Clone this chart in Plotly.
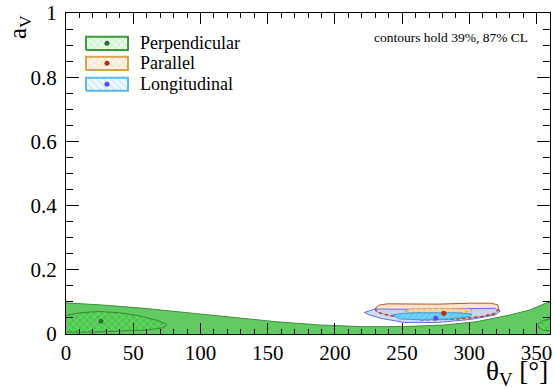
import plotly.graph_objects as go

# ---------------- data ----------------
# Perpendicular, 87% CL band: upper edge vs theta (band reaches down to a=0)
perp87_theta = [0, 5, 28, 58, 95, 127, 157, 189, 219, 251, 281, 305, 330, 345, 353, 358, 360]
perp87_a = [0.097, 0.096, 0.090, 0.080, 0.064, 0.052, 0.038, 0.028, 0.023, 0.023, 0.028, 0.038, 0.059, 0.075, 0.090, 0.098, 0.098]
# Perpendicular, 39% CL region (and its wrap-around part near 360)
perp39_theta = [0, 10, 25, 40, 55, 68, 75, 73, 60, 40, 20, 0]
perp39_a = [0.058, 0.066, 0.070, 0.066, 0.056, 0.042, 0.030, 0.020, 0.012, 0.008, 0.006, 0.006]
perp39w_theta = [360, 355, 351, 352, 355, 360]
perp39w_a = [0.047, 0.042, 0.030, 0.018, 0.012, 0.010]
perp_best = (26, 0.040)

# Parallel
par87_theta = [230, 233, 239, 260, 276, 301, 316, 321, 322, 319, 309, 289, 265, 245, 236, 231, 230]
par87_a = [0.080, 0.090, 0.094, 0.094, 0.093, 0.096, 0.096, 0.091, 0.078, 0.064, 0.054, 0.046, 0.044, 0.054, 0.062, 0.069, 0.080]
par39_theta = [252, 256, 280, 300, 302, 295, 270, 255, 252]
par39_a = [0.072, 0.078, 0.080, 0.078, 0.072, 0.067, 0.066, 0.067, 0.072]
par_best = (281, 0.065)

# Longitudinal
lon87_theta = [222, 226, 230, 252, 289, 319, 323, 319, 302, 277, 252, 235, 226, 222]
lon87_a = [0.067, 0.073, 0.078, 0.077, 0.078, 0.080, 0.072, 0.059, 0.046, 0.036, 0.036, 0.048, 0.059, 0.067]
lon39_theta = [243, 250, 260, 290, 302, 300, 285, 265, 248, 243]
lon39_a = [0.060, 0.064, 0.066, 0.066, 0.062, 0.054, 0.047, 0.044, 0.047, 0.060]
lon_best = (275, 0.049)

legend_labels = ["Perpendicular", "Parallel", "Longitudinal"]
x_ticks = [0, 50, 100, 150, 200, 250, 300, 350]
y_ticks = [0, 0.2, 0.4, 0.6, 0.8, 1]
y_tick_text = ["0", "0.2", "0.4", "0.6", "0.8", "1"]

SERIF = "Liberation Serif"

fig = go.Figure()

# Perpendicular
fig.add_trace(go.Scatter(x=perp87_theta, y=perp87_a, mode="lines", fill="tozeroy",
                         line=dict(color="#3f8f3f", width=1), fillcolor="#63c963",
                         showlegend=False, hoverinfo="skip"))
for tx, ty in [(perp39_theta, perp39_a), (perp39w_theta, perp39w_a)]:
    fig.add_trace(go.Scatter(x=tx, y=ty, mode="lines", fill="toself",
                             line=dict(color="#2e8b2e", width=1),
                             fillpattern=dict(shape="x", bgcolor="#4cc84c", fgcolor="#a8f2a8",
                                              size=5, solidity=0.3),
                             showlegend=False, hoverinfo="skip"))

# Parallel 87%
fig.add_trace(go.Scatter(x=par87_theta, y=par87_a, mode="lines", fill="toself",
                         line=dict(color="#b8562e", width=1), fillcolor="#fde3cb",
                         showlegend=False, hoverinfo="skip"))
# Longitudinal 87%
fig.add_trace(go.Scatter(x=lon87_theta, y=lon87_a, mode="lines", fill="toself",
                         line=dict(color="#6a6ae8", width=1), fillcolor="rgba(170,200,245,0.6)",
                         showlegend=False, hoverinfo="skip"))
# lower part of the Parallel 87% outline, seen through the blue (dotted)
fig.add_trace(go.Scatter(x=par87_theta[8:], y=par87_a[8:], mode="lines",
                         line=dict(color="#b03a20", width=1.5, dash="dot"),
                         showlegend=False, hoverinfo="skip"))
# Parallel 39%
fig.add_trace(go.Scatter(x=par39_theta, y=par39_a, mode="lines", fill="toself",
                         line=dict(color="#e0a040", width=1, dash="dot"),
                         fillpattern=dict(shape="x", bgcolor="#f6d7a8", fgcolor="#e8b060",
                                          size=4, solidity=0.3),
                         showlegend=False, hoverinfo="skip"))
# Longitudinal 39%
fig.add_trace(go.Scatter(x=lon39_theta, y=lon39_a, mode="lines", fill="toself",
                         line=dict(color="#3a9fe0", width=1),
                         fillpattern=dict(shape="/", bgcolor="#62c8f2", fgcolor="#a8e2fa",
                                          size=4, solidity=0.3),
                         showlegend=False, hoverinfo="skip"))

# best points
for (bx, by), col in [(perp_best, "#2e6e2e"), (par_best, "#b03010"), (lon_best, "#5050e0")]:
    fig.add_trace(go.Scatter(x=[bx], y=[by], mode="markers",
                             marker=dict(color=col, size=5),
                             showlegend=False, hoverinfo="skip"))

# ---------------- legend drawn on an overlay axis in paper units ----------------
leg_rows = [0.9056, 0.8433, 0.7779]
leg_x0, leg_x1, leg_h = 0.0413, 0.1281, 0.0205
leg_styles = [
    dict(line="#3c9c3c", pat=dict(shape="x", bgcolor="#e9f9e9", fgcolor="#8fe08f", size=5, solidity=0.3), dot="#2e6e2e"),
    dict(line="#d9a24c", pat=dict(shape="x", bgcolor="#fdf3e8", fgcolor="#f2c89a", size=5, solidity=0.3), dot="#b03010"),
    dict(line="#55bbee", pat=dict(shape="\\", bgcolor="#f2f9fe", fgcolor="#a8d8f5", size=5, solidity=0.3), dot="#5050e0"),
]
for yc, st, lab in zip(leg_rows, leg_styles, legend_labels):
    fig.add_trace(go.Scatter(x=[leg_x0, leg_x1, leg_x1, leg_x0, leg_x0],
                             y=[yc - leg_h, yc - leg_h, yc + leg_h, yc + leg_h, yc - leg_h],
                             mode="lines", fill="toself", line=dict(color=st["line"], width=2),
                             fillpattern=st["pat"], xaxis="x2", yaxis="y2",
                             showlegend=False, hoverinfo="skip"))
    fig.add_trace(go.Scatter(x=[(leg_x0 + leg_x1) / 2], y=[yc], mode="markers",
                             marker=dict(color=st["dot"], size=5), xaxis="x2", yaxis="y2",
                             showlegend=False, hoverinfo="skip"))
    fig.add_annotation(x=0.149, y=yc, xref="paper", yref="paper", text=lab,
                       showarrow=False, xanchor="left", yanchor="middle",
                       font=dict(family=SERIF, size=18, color="black"))

fig.add_annotation(x=0.958, y=0.925, xref="paper", yref="paper",
                   text="contours hold 39%, 87% CL", showarrow=False,
                   xanchor="right", yanchor="middle",
                   font=dict(family=SERIF, size=13.5, color="black"))

# axis titles
fig.add_annotation(x=-0.097, y=1.0, xref="paper", yref="paper", text="a<sub>V</sub>",
                   showarrow=False, textangle=-90, xanchor="center", yanchor="top",
                   font=dict(family=SERIF, size=25, color="black"))
fig.add_annotation(x=1.0, y=-0.123, xref="paper", yref="paper", text="θ<sub>V</sub> [°]",
                   showarrow=False, xanchor="right", yanchor="middle",
                   font=dict(family=SERIF, size=27, color="black"))

fig.update_layout(
    width=554, height=389,
    margin=dict(l=66, r=4, t=13, b=55, autoexpand=False),
    paper_bgcolor="white", plot_bgcolor="white",
    font=dict(family=SERIF, color="black"),
    showlegend=False, hovermode=False,
    xaxis=dict(range=[0, 360], tickvals=x_ticks, ticks="inside", ticklen=11, tickcolor="black",
               tickwidth=1, showline=True, linecolor="black", linewidth=1, mirror="ticks",
               showgrid=False, zeroline=False, automargin=False,
               minor=dict(dtick=10, tick0=0, ticks="inside", ticklen=5, tickcolor="black", showgrid=False),
               tickfont=dict(family=SERIF, size=21, color="black")),
    yaxis=dict(range=[0, 1], tickvals=y_ticks, ticktext=y_tick_text, ticks="inside", ticklen=13,
               tickcolor="black", tickwidth=1, showline=True, linecolor="black", linewidth=1,
               mirror="ticks", showgrid=False, zeroline=False, automargin=False,
               minor=dict(dtick=0.05, tick0=0, ticks="inside", ticklen=7, tickcolor="black", showgrid=False),
               tickfont=dict(family=SERIF, size=21, color="black"), ticklabelstandoff=4),
    xaxis2=dict(range=[0, 1], overlaying="x", visible=False, fixedrange=True),
    yaxis2=dict(range=[0, 1], overlaying="y", visible=False, fixedrange=True),
)

fig.write_html("out.html", config={"displayModeBar": False, "staticPlot": True},
               post_script="document.body.style.margin='0';document.body.style.overflow='hidden';")
